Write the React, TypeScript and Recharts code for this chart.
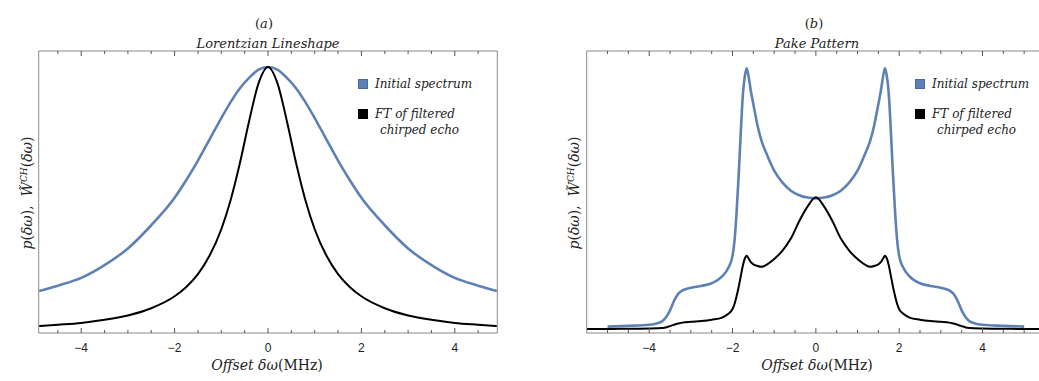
import { LineChart, Line, XAxis, YAxis } from 'recharts';

// Panel (a): Lorentzian lineshape
const lorentzX = [-4.9, -4.5, -4, -3.5, -3, -2.5, -2, -1.75, -1.5, -1.25, -1, -0.8, -0.6, -0.4, -0.2, 0,
  0.2, 0.4, 0.6, 0.8, 1, 1.25, 1.5, 1.75, 2, 2.5, 3, 3.5, 4, 4.5, 4.9];
const lorentzInitial = [0.158, 0.178, 0.207, 0.255, 0.318, 0.405, 0.508, 0.575, 0.648, 0.728, 0.808, 0.868, 0.92, 0.96, 0.99, 1.0,
  0.99, 0.96, 0.92, 0.868, 0.808, 0.728, 0.648, 0.575, 0.508, 0.405, 0.318, 0.255, 0.207, 0.178, 0.158];
const lorentzEcho = [0.026, 0.031, 0.038, 0.05, 0.066, 0.093, 0.138, 0.173, 0.221, 0.291, 0.39, 0.5, 0.64, 0.8, 0.94, 1.0,
  0.94, 0.8, 0.64, 0.5, 0.39, 0.291, 0.221, 0.173, 0.138, 0.093, 0.066, 0.05, 0.038, 0.031, 0.026];

// Panel (b): Pake pattern
const pakeX = [-5.5, -5, -4.5, -4, -3.8, -3.7, -3.6, -3.5, -3.4, -3.3, -3.2, -3, -2.75, -2.5, -2.25, -2.1, -2,
  -1.95, -1.9, -1.85, -1.8, -1.75, -1.7, -1.66, -1.62, -1.56, -1.5, -1.4, -1.3, -1.2, -1, -0.8, -0.6, -0.4, -0.2, 0,
  0.2, 0.4, 0.6, 0.8, 1, 1.2, 1.3, 1.4, 1.5, 1.56, 1.62, 1.66, 1.7, 1.75, 1.8, 1.85, 1.9, 1.95,
  2, 2.1, 2.25, 2.5, 2.75, 3, 3.2, 3.3, 3.4, 3.5, 3.6, 3.7, 3.8, 4, 4.5, 5, 5.5];
const pakeInitial = [null, 0.024, 0.027, 0.031, 0.037, 0.043, 0.058, 0.085, 0.122, 0.148, 0.16, 0.17, 0.177, 0.187, 0.213, 0.245, 0.29,
  0.35, 0.46, 0.6, 0.76, 0.9, 0.97, 0.995, 0.97, 0.91, 0.86, 0.78, 0.72, 0.68, 0.61, 0.565, 0.535, 0.518, 0.509, 0.506,
  0.509, 0.518, 0.535, 0.565, 0.61, 0.68, 0.72, 0.78, 0.86, 0.91, 0.97, 0.995, 0.97, 0.9, 0.76, 0.6, 0.46, 0.35,
  0.29, 0.245, 0.213, 0.187, 0.177, 0.17, 0.16, 0.148, 0.122, 0.085, 0.058, 0.043, 0.037, 0.031, 0.027, 0.024, null];
const pakeEcho = [0.015, 0.015, 0.016, 0.017, 0.018, 0.019, 0.021, 0.026, 0.031, 0.036, 0.039, 0.042, 0.045, 0.05, 0.058, 0.072, 0.09,
  0.11, 0.14, 0.175, 0.215, 0.255, 0.282, 0.29, 0.282, 0.266, 0.258, 0.252, 0.249, 0.255, 0.278, 0.31, 0.355, 0.42, 0.475, 0.51,
  0.475, 0.42, 0.355, 0.31, 0.278, 0.255, 0.249, 0.252, 0.258, 0.266, 0.282, 0.29, 0.282, 0.255, 0.215, 0.175, 0.14, 0.11,
  0.09, 0.072, 0.058, 0.05, 0.045, 0.042, 0.039, 0.036, 0.031, 0.026, 0.021, 0.019, 0.018, 0.017, 0.016, 0.015, 0.015];

const ticksA = [-4.5, -4, -3.5, -3, -2.5, -2, -1.5, -1, -0.5, 0, 0.5, 1, 1.5, 2, 2.5, 3, 3.5, 4, 4.5];
const ticksB = [-5, -4.5, -4, -3.5, -3, -2.5, -2, -1.5, -1, -0.5, 0, 0.5, 1, 1.5, 2, 2.5, 3, 3.5, 4, 4.5, 5];

const dataA = lorentzX.map((x, i) => ({ x, initial: lorentzInitial[i], echo: lorentzEcho[i] }));
const dataB = pakeX.map((x, i) => ({ x, initial: pakeInitial[i], echo: pakeEcho[i] }));

const BLUE = '#5e81b5';
const FRAME = '#8a8a8a';
const SERIF = '"DejaVu Serif", serif';

function FrameTick(props: any) {
  const { x, y, payload, side } = props;
  const v = payload.value;
  const major = Math.abs(v % 2) < 1e-9;
  const len = major ? 5 : 3;
  const dir = side === 'top' ? 1 : -1;
  const label = v < 0 ? '\u2212' + Math.abs(v) : String(v);
  return (
    <g>
      <line x1={x} x2={x} y1={y} y2={y + dir * len} stroke="#555" strokeWidth={1} />
      {side === 'bottom' && major && (
        <text x={x} y={y + 18.5} textAnchor="middle" fontSize={12} fill="#222" stroke="none"
          style={{ fill: '#222' }}
          fontFamily='"Liberation Sans", Arial, sans-serif'>{label}</text>
      )}
    </g>
  );
}

function Panel({ data, domain, ticks, width, marginLeft, marginRight }: any) {
  return (
    <LineChart width={width} height={381} data={data}
      margin={{ top: 50, right: marginRight, bottom: 28, left: marginLeft }}>
      <XAxis type="number" dataKey="x" domain={domain} ticks={ticks} interval={0} allowDataOverflow
        tickSize={0} tickMargin={0} tickLine={false} height={20}
        axisLine={{ stroke: FRAME }} tick={<FrameTick side="bottom" />} />
      <XAxis xAxisId="top" orientation="top" type="number" dataKey="x" domain={domain} ticks={ticks} interval={0}
        allowDataOverflow tickSize={0} tickMargin={0} tickLine={false} height={1}
        axisLine={{ stroke: FRAME }} tick={<FrameTick side="top" />} />
      <YAxis type="number" domain={[0, 1.06]} width={1} tick={false} tickLine={false}
        axisLine={{ stroke: FRAME }} allowDataOverflow />
      <YAxis yAxisId="r" orientation="right" type="number" domain={[0, 1.06]} width={1} tick={false}
        tickLine={false} axisLine={{ stroke: FRAME }} />
      <Line type="monotone" dataKey="initial" stroke={BLUE} strokeWidth={2.6} dot={false}
        isAnimationActive={false} />
      <Line type="monotone" dataKey="echo" stroke="#000" strokeWidth={2} dot={false}
        isAnimationActive={false} />
    </LineChart>
  );
}

function Centered({ x, y, children, style }: any) {
  return (
    <div style={{
      position: 'absolute', left: x, top: y, transform: 'translate(-50%, -50%)',
      whiteSpace: 'nowrap', fontFamily: SERIF, color: '#222', lineHeight: 1, ...style,
    }}>{children}</div>
  );
}

function YLabel({ x, y }: any) {
  return (
    <Centered x={x} y={y} style={{ transform: 'translate(-50%, -50%) rotate(-90deg)', fontSize: 14 }}>
      <i>p</i>(<i>δω</i>),&nbsp; <i>W̃</i><sup style={{ fontSize: 9, fontStyle: 'italic' }}>CH</sup>(<i>δω</i>)
    </Centered>
  );
}

function XLabel({ x }: any) {
  return (
    <Centered x={x} y={365} style={{ fontSize: 14 }}>
      <i>Offset δω</i>(MHz)
    </Centered>
  );
}

function Legend({ left }: any) {
  const sq = (c: string) => ({
    position: 'absolute' as const, width: 10, height: 10, background: c,
    border: c === BLUE ? '1px solid #4a6a9c' : '1px solid #000', boxSizing: 'border-box' as const,
  });
  const txt = { position: 'absolute' as const, fontFamily: SERIF, fontStyle: 'italic', fontSize: 12, color: '#222', whiteSpace: 'nowrap' as const, lineHeight: '14px' };
  return (
    <>
      <div style={{ ...sq(BLUE), left, top: 79 }} />
      <div style={{ ...txt, left: left + 17, top: 77 }}>Initial spectrum</div>
      <div style={{ ...sq('#000'), left, top: 109 }} />
      <div style={{ ...txt, left: left + 17, top: 107 }}>FT of filtered</div>
      <div style={{ ...txt, left: left + 22, top: 123 }}>chirped echo</div>
    </>
  );
}

export default function App() {
  return (
    <div style={{ position: 'fixed', left: 0, top: 0, width: 1039, height: 381, overflow: 'hidden', background: '#fff' }}>
      <div style={{ position: 'absolute', left: 0, top: 0 }}>
        <Panel data={dataA} domain={[-4.91, 4.91]} ticks={ticksA} width={520} marginLeft={37.7} marginRight={21.7} />
      </div>
      <div style={{ position: 'absolute', left: 520, top: 0 }}>
        <Panel data={dataB} domain={[-5.5, 5.5]} ticks={ticksB} width={540} marginLeft={65.7} marginRight={14} />
      </div>

      <Centered x={264} y={23} style={{ fontSize: 13 }}>(<i>a</i>)</Centered>
      <Centered x={268} y={43} style={{ fontSize: 13, fontStyle: 'italic' }}>Lorentzian Lineshape</Centered>
      <Centered x={814} y={23} style={{ fontSize: 13 }}>(<i>b</i>)</Centered>
      <Centered x={817} y={43} style={{ fontSize: 13, fontStyle: 'italic' }}>Pake Pattern</Centered>

      <YLabel x={27} y={193} />
      <YLabel x={574} y={193} />
      <XLabel x={267} />
      <XLabel x={817} />

      <Legend left={358} />
      <Legend left={915} />
    </div>
  );
}
